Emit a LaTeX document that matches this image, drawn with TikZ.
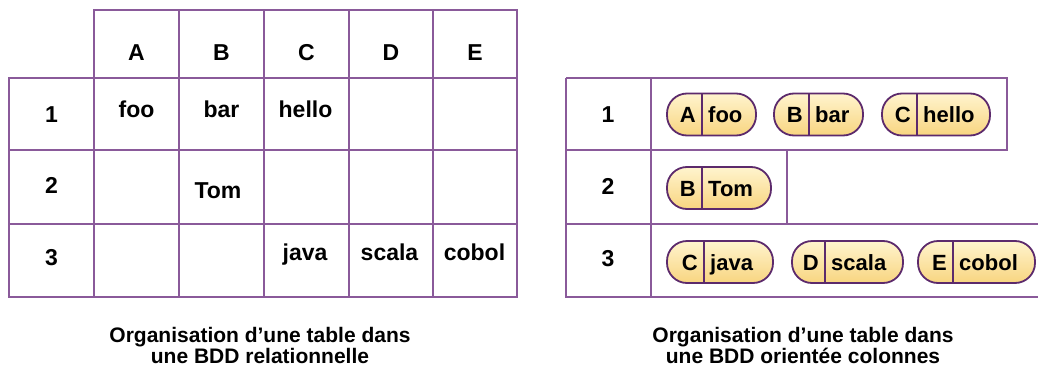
\documentclass[tikz,border=0pt]{standalone}
\usepackage{fontspec}
\setmainfont{Liberation Sans}
\definecolor{gridc}{HTML}{8A5A9A}
\definecolor{pillc}{HTML}{5C2A6C}
\definecolor{pilltop}{HTML}{FFF4CE}
\definecolor{pillbot}{HTML}{F8D580}
\newcommand\pillbox[7]{%
  \node[pill, minimum width={#4pt-#2pt}] (#1) at ({(#2+#4)/2},#5) {};
  \draw[pilldiv] (#3,{#5-21}) -- (#3,{#5+21});
  \node[ptxt, anchor=base east] (#1k) at ({#3-6},{#5+8}) {#6};
  \node[ptxt, anchor=base west] (#1v) at ({#3+6},{#5+8}) {#7};
}
\begin{document}
\begin{tikzpicture}[x=1pt,y=-1pt,
  grid/.style={draw=gridc, line width=1.8pt},
  txt/.style={font=\fontsize{23}{26}\selectfont\bfseries, anchor=base, inner sep=0pt},
  ptxt/.style={font=\fontsize{22}{26}\selectfont\bfseries, inner sep=0pt},
  captxt/.style={font=\fontsize{21}{24}\selectfont\bfseries, anchor=base, inner sep=0pt},
  pill/.style={draw=pillc, line width=1.8pt, rounded corners=20pt, top color=pilltop, bottom color=pillbot, minimum height=42pt, inner sep=0pt},
  pilldiv/.style={draw=pillc, line width=1.5pt}]
\useasboundingbox (0,0) rectangle (1038,369);
\fill[white] (0,0) rectangle (1038,369);
% left table
\draw[grid] (94,10) rectangle (517,297);
\draw[grid] (9,78) rectangle (94,297);
\foreach \x in {179,264,349,433} \draw[grid] (\x,10) -- (\x,297);
\foreach \y in {78,150,224} \draw[grid] (9,\y) -- (517,\y);
\node[txt] (hA) at (136.5,60) {A};
\node[txt] (hB) at (221.5,60) {B};
\node[txt] (hC) at (306.5,60) {C};
\node[txt] (hD) at (391,60) {D};
\node[txt] (hE) at (475,60) {E};
\node[txt] (r1) at (51.5,122) {1};
\node[txt] (r2) at (51.5,193) {2};
\node[txt] (r3) at (51.5,265) {3};
\node[txt] (c1A) at (136.5,117) {foo};
\node[txt] (c1B) at (221.5,117) {bar};
\node[txt] (c1C) at (305.5,117) {hello};
\node[txt] (c2B) at (218,198) {Tom};
\node[txt] (c3C) at (305,260) {java};
\node[txt] (c3D) at (389.5,260) {scala};
\node[txt] (c3E) at (474.5,260) {cobol};
% right table
\draw[grid] (566,78) -- (1007,78) -- (1007,150) -- (566,150);
\draw[grid] (566,78) -- (566,297) -- (1040,297);
\draw[grid] (651,78) -- (651,297);
\draw[grid] (787,150) -- (787,224);
\draw[grid] (566,224) -- (1040,224);
\node[txt] (s1) at (608,122) {1};
\node[txt] (s2) at (608,194) {2};
\node[txt] (s3) at (608,266) {3};
\pillbox{p1}{667}{702}{756}{114.5}{A}{foo}
\pillbox{p2}{774}{809}{863}{114.5}{B}{bar}
\pillbox{p3}{882}{917}{990}{114.5}{C}{hello}
\pillbox{p4}{667}{702}{771}{188}{B}{Tom}
\pillbox{p5}{667}{704}{773}{262}{C}{java}
\pillbox{p6}{792}{825}{903}{262}{D}{scala}
\pillbox{p7}{918}{953}{1035}{262}{E}{cobol}
% captions
\node[captxt] (capLa) at (260,342) {Organisation d’une table dans};
\node[captxt] (capLb) at (260,363) {une BDD relationnelle};
\node[captxt] (capRa) at (803,342) {Organisation d’une table dans};
\node[captxt] (capRb) at (803,363) {une BDD orientée colonnes};
\end{tikzpicture}
\end{document}
